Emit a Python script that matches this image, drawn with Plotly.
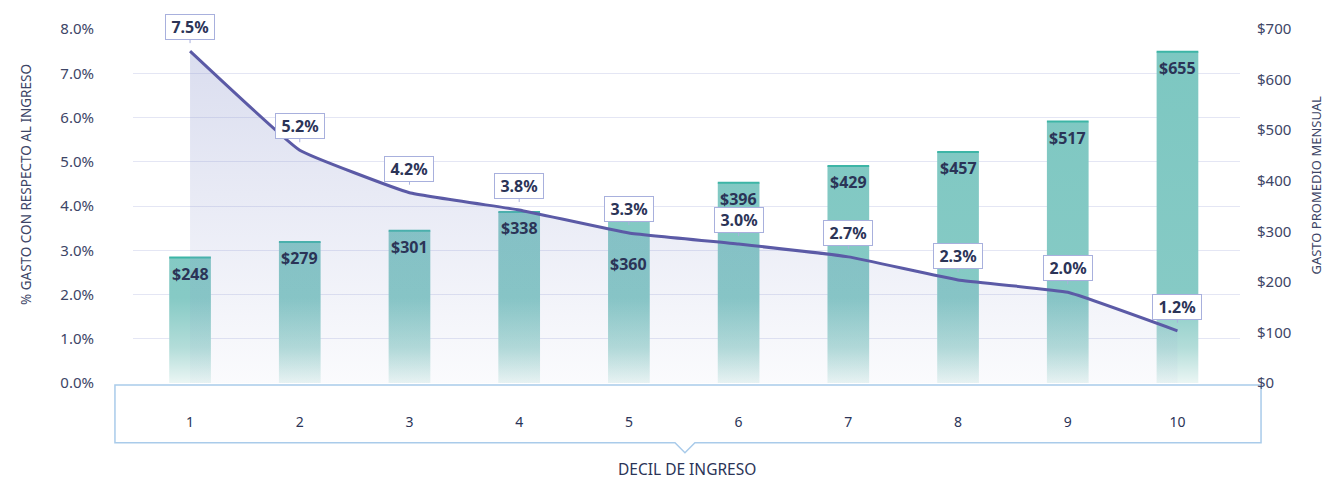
import plotly.graph_objects as go

# Datos
deciles = [1, 2, 3, 4, 5, 6, 7, 8, 9, 10]
gasto_mensual = [248, 279, 301, 338, 360, 396, 429, 457, 517, 655]
pct_ingreso = [7.5, 5.26, 4.3, 3.91, 3.39, 3.14, 2.85, 2.33, 2.05, 1.18]
pct_labels = ['7.5%', '5.2%', '4.2%', '3.8%', '3.3%', '3.0%', '2.7%', '2.3%', '2.0%', '1.2%']
gasto_ticks = [0, 100, 200, 300, 400, 500, 600, 700]

NAVY = '#2b3457'
AXIS = '#3d4566'
FONT = 'Noto Sans'
HALF_W = 0.19

# barras como poligonos para poder usar un degradado vertical
bx, by, tx, ty = [], [], [], []
for d, v in zip(deciles, gasto_mensual):
    bx += [d - HALF_W, d - HALF_W, d + HALF_W, d + HALF_W, d - HALF_W, None]
    by += [0, v, v, 0, 0, None]
    tx += [d - HALF_W, d + HALF_W, None]
    ty += [v, v, None]

fig = go.Figure()

fig.add_trace(go.Scatter(
    x=bx, y=by, mode='none', fill='toself', yaxis='y',
    fillgradient=dict(type='vertical', start=0, stop=700,
                      colorscale=[[0, '#ebf6f4'], [0.1, '#b3ddd9'],
                                  [0.24, '#86cac5'], [1, '#7cc7c1']]),
    showlegend=False, hoverinfo='skip'))
fig.add_trace(go.Scatter(
    x=tx, y=ty, mode='lines', yaxis='y',
    line=dict(color='#3db5a6', width=2),
    showlegend=False, hoverinfo='skip'))

# linea de porcentaje
fig.add_trace(go.Scatter(
    x=deciles, y=pct_ingreso, mode='lines', yaxis='y2',
    line=dict(color='#5b5aa6', width=3, shape='spline', smoothing=0.3),
    fill='tozeroy',
    fillgradient=dict(type='vertical', start=0, stop=7.5,
                      colorscale=[[0, 'rgba(140,150,205,0.04)'],
                                  [1, 'rgba(140,150,205,0.32)']]),
    showlegend=False))

# etiquetas de las barras
label_shift = {5: -47}
for d, v in zip(deciles, gasto_mensual):
    fig.add_annotation(x=d, y=v, xref='x', yref='y', text=f'${v}',
                       showarrow=False, yanchor='top', yshift=-3 + label_shift.get(d, 0),
                       font=dict(family=FONT, size=16, color=NAVY, weight='bold'))

# etiquetas de la linea
for d, p, lab in zip(deciles, pct_ingreso, pct_labels):
    fig.add_annotation(x=d, y=p, xref='x', yref='y2', text=lab,
                       showarrow=True, ax=0, ay=-24, arrowhead=0, arrowwidth=1,
                       arrowcolor='#a8b0dd', standoff=8, width=42, height=18,
                       bgcolor='white', bordercolor='#a8b0dd', borderwidth=1, borderpad=3,
                       font=dict(family=FONT, size=16, color=NAVY, weight='bold'))

# caja del eje x con la muesca
x0, x1, y0, y1 = -0.0163, 1.019, -0.006, -0.169
nx, hw, tip = 0.4986, 0.009, -0.197
fig.add_shape(type='path', xref='paper', yref='paper', layer='below',
              path=f'M {x0},{y0} L {x1},{y0} L {x1},{y1} L {nx + hw},{y1} L {nx},{tip} '
                   f'L {nx - hw},{y1} L {x0},{y1} Z',
              line=dict(color='#a9cbea', width=1.5), fillcolor='rgba(0,0,0,0)')

# titulos de los ejes
fig.add_annotation(x=0.5, y=-0.243, xref='paper', yref='paper', text='DECIL DE INGRESO',
                   showarrow=False, yanchor='middle',
                   font=dict(family=FONT, size=15.5, color=NAVY))
fig.add_annotation(x=-0.1066, y=0.562, xref='paper', yref='paper',
                   text='% GASTO CON RESPECTO AL INGRESO', textangle=-90,
                   showarrow=False, font=dict(family=FONT, size=13.5, color=AXIS))
fig.add_annotation(x=1.079, y=0.559, xref='paper', yref='paper',
                   text='GASTO PROMEDIO MENSUAL', textangle=-90,
                   showarrow=False, font=dict(family=FONT, size=13, color=AXIS))

fig.update_layout(
    width=1325, height=473,
    margin=dict(l=125, r=93, t=21, b=98),
    plot_bgcolor='white', paper_bgcolor='white',
    font=dict(family=FONT, color=AXIS),
    xaxis=dict(range=[0.48, 10.57], tickvals=deciles, ticktext=[str(d) for d in deciles],
               showgrid=False, zeroline=False, showline=False, automargin=False,
               ticklabelstandoff=29, tickfont=dict(size=14, color=NAVY)),
    yaxis=dict(range=[0, 700], tickvals=gasto_ticks,
               ticktext=[f'${t}' for t in gasto_ticks],
               side='right', showgrid=False, zeroline=False, automargin=False,
               ticks='outside', ticklen=13, tickcolor='rgba(0,0,0,0)',
               tickfont=dict(size=15, color=AXIS)),
    yaxis2=dict(range=[0, 8], dtick=1, tickformat='.1f', ticksuffix='%',
                overlaying='y', side='left', showgrid=True, gridcolor='#e4e6f4',
                zeroline=False, ticklabelstandoff=38, automargin=False,
                tickfont=dict(size=15, color=AXIS)),
)

fig.write_html("out.html")
